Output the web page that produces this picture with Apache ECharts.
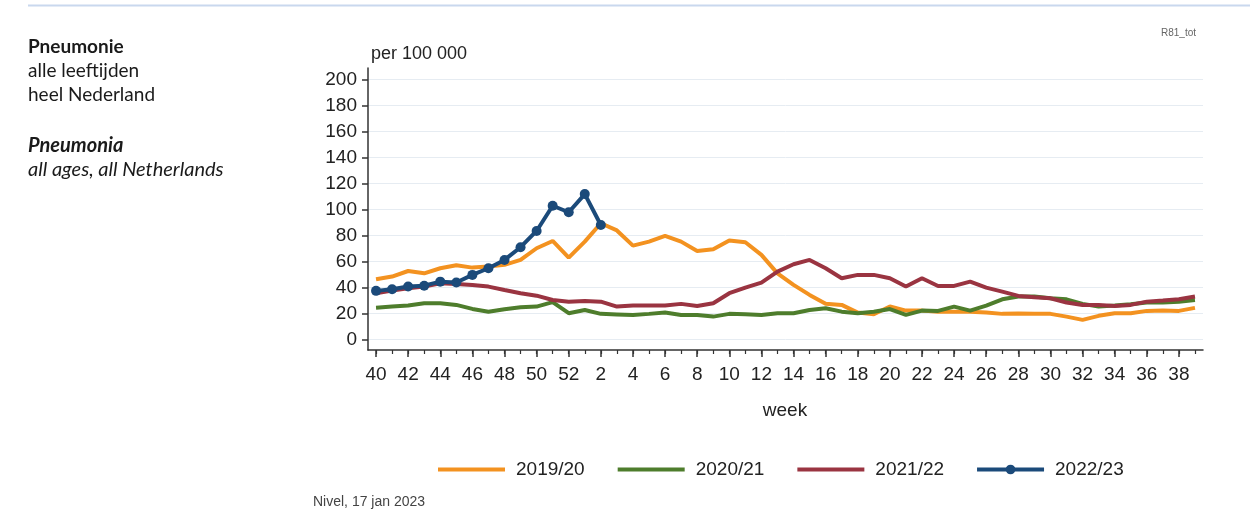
<!DOCTYPE html>
<html>
<head>
<meta charset="utf-8">
<script src="https://cdn.jsdelivr.net/npm/echarts@6/dist/echarts.min.js"></script>
<style>
html,body{margin:0;padding:0;background:#fff;}
#chart{width:1255px;height:529px;}
</style>
</head>
<body>
<div id="chart"></div>
<script>
// Week categories (season runs from week 40 to week 39)
const weeks = ['40','41','42','43','44','45','46','47','48','49','50','51','52',
  '1','2','3','4','5','6','7','8','9','10','11','12','13','14','15','16','17','18','19',
  '20','21','22','23','24','25','26','27','28','29','30','31','32','33','34','35','36','37','38','39'];

const yTicks = [0, 20, 40, 60, 80, 100, 120, 140, 160, 180, 200];

const s2019 = [46.4, 48.5, 52.8, 51.0, 54.9, 57.2, 55.4, 56.2, 57.5, 61.3, 70.3, 75.9, 63.1, 75.4, 89.5, 84.0,
  72.3, 75.4, 79.8, 75.4, 68.2, 69.5, 76.2, 74.9, 65.2, 51.0, 42.1, 34.4, 27.5, 26.7, 20.8, 19.5,
  25.5, 22.3, 22.3, 21.5, 21.5, 21.5, 20.8, 19.8, 20.0, 19.8, 19.8, 17.7, 15.2, 18.3, 20.3, 20.3, 22.1, 22.3, 22.1, 24.4];

const s2020 = [24.6, 25.4, 26.2, 28.0, 28.0, 26.7, 23.6, 21.5, 23.4, 24.9, 25.4, 28.8, 20.3, 22.8, 19.8, 19.4,
  19.0, 19.8, 20.8, 19.0, 19.0, 17.7, 19.8, 19.5, 19.0, 20.3, 20.3, 22.8, 24.1, 21.5, 20.3, 21.5,
  23.5, 19.0, 22.3, 22.1, 25.4, 22.3, 26.2, 31.0, 33.1, 33.1, 31.8, 31.0, 27.5, 25.4, 26.2, 27.2, 28.5, 28.5, 29.2, 30.5];

const s2021 = [35.7, 37.7, 39.5, 40.8, 43.4, 42.8, 42.1, 40.8, 38.2, 35.7, 33.8, 30.5, 29.2, 29.8, 29.2, 25.4,
  26.2, 26.2, 26.2, 27.5, 25.9, 28.0, 35.7, 40.0, 43.9, 52.3, 58.0, 61.3, 54.9, 47.2, 49.8, 49.8,
  47.2, 40.8, 47.2, 41.3, 41.3, 44.6, 40.0, 36.9, 33.6, 32.6, 31.8, 28.5, 26.7, 26.7, 25.9, 26.7, 29.2, 30.0, 31.0, 33.1];

const s2022 = [37.5, 38.8, 40.8, 41.5, 44.6, 43.9, 49.8, 54.9, 61.3, 71.1, 83.6, 103.0, 98.0, 112.0, 88.2];

const seasonNames = ['2019/20', '2020/21', '2021/22', '2022/23'];
const seasonColors = ['#f39220', '#4e7d2c', '#9a3441', '#1b4a7a'];

const FONT = '"Liberation Sans", Arial, Helvetica, sans-serif';
const LEFTFONT = 'Lato, "Open Sans", sans-serif';

const chart = echarts.init(document.getElementById('chart'), null, {renderer: 'canvas'});

function lineSeries(name, data, color, withSymbol) {
  return {
    name: name,
    type: 'line',
    xAxisIndex: 0,
    yAxisIndex: 0,
    data: data,
    smooth: false,
    symbol: withSymbol ? 'circle' : 'none',
    symbolSize: withSymbol ? 10 : 0,
    showSymbol: !!withSymbol,
    lineStyle: {color: color, width: 4},
    itemStyle: {color: color},
    emphasis: {disabled: true},
    animation: false
  };
}

const legendData = seasonNames.map(function (n, i) {
  return i < 3 ? {name: n, itemStyle: {opacity: 0}} : {name: n};
});

const option = {
  backgroundColor: '#fff',
  animation: false,
  grid: {left: 368, right: 52, top: 68, bottom: 179, containLabel: false, outerBoundsMode: 'none'},
  legend: {
    left: 436,
    top: 460,
    padding: 0,
    itemWidth: 67,
    itemHeight: 12,
    itemGap: 31,
    data: legendData,
    lineStyle: {width: 4},
    textStyle: {fontSize: 19, color: '#222', fontFamily: FONT, padding: [0, 0, 0, 6]},
    selectedMode: false
  },
  xAxis: [
    {
      type: 'category',
      data: weeks,
      boundaryGap: true,
      position: 'bottom',
      axisLine: {show: true, onZero: false, lineStyle: {color: '#333', width: 1.5}},
      axisTick: {show: true, alignWithLabel: true, interval: 1, length: 7, lineStyle: {color: '#333', width: 1.5}},
      axisLabel: {interval: 1, fontSize: 19, color: '#222', fontFamily: FONT, margin: 15},
      splitLine: {show: false}
    },
    {
      type: 'category',
      data: weeks,
      boundaryGap: true,
      position: 'bottom',
      offset: 0,
      axisLine: {show: false, onZero: false},
      axisTick: {show: true, alignWithLabel: true, interval: 0, length: 4, lineStyle: {color: '#333', width: 1.2}},
      axisLabel: {show: false},
      splitLine: {show: false}
    }
  ],
  yAxis: {
    type: 'value',
    min: -8,
    max: 209,
    axisLine: {show: true, onZero: false, lineStyle: {color: '#333', width: 1.5}},
    axisTick: {show: true, length: 6, customValues: yTicks, lineStyle: {color: '#333', width: 1.5}},
    axisLabel: {customValues: yTicks, fontSize: 19, color: '#222', fontFamily: FONT, margin: 11},
    splitLine: {show: true, lineStyle: {color: '#e6ecf2', width: 1}}
  },
  series: [
    lineSeries(seasonNames[0], s2019, seasonColors[0], false),
    lineSeries(seasonNames[1], s2020, seasonColors[1], false),
    lineSeries(seasonNames[2], s2021, seasonColors[2], false),
    lineSeries(seasonNames[3], s2022, seasonColors[3], true)
  ],
  graphic: [
    {type: 'line', silent: true, shape: {x1: 28, y1: 5.5, x2: 1250, y2: 5.5}, style: {stroke: '#c9d8ee', lineWidth: 2}},
    {type: 'text', left: 1161, top: 28, style: {text: 'R81_tot', fontSize: 10, fill: '#666', fontFamily: FONT}},
    {type: 'text', x: 28, y: 47, style: {text: 'Pneumonie', fontSize: 19, fontWeight: 'bold', fill: '#1a1a1a', fontFamily: LEFTFONT, verticalAlign: 'middle'}},
    {type: 'text', x: 28, y: 71, style: {text: 'alle leeftijden', fontSize: 19, fill: '#1a1a1a', fontFamily: LEFTFONT, verticalAlign: 'middle'}},
    {type: 'text', x: 28, y: 95, style: {text: 'heel Nederland', fontSize: 19, fill: '#1a1a1a', fontFamily: LEFTFONT, verticalAlign: 'middle'}},
    {type: 'text', x: 28, y: 146, style: {text: 'Pneumonia', fontSize: 20, fontWeight: 'bold', fontStyle: 'italic', fill: '#1a1a1a', fontFamily: LEFTFONT, verticalAlign: 'middle'}},
    {type: 'text', x: 28, y: 170, style: {text: 'all ages, all Netherlands', fontSize: 20, fontStyle: 'italic', fill: '#1a1a1a', fontFamily: LEFTFONT, verticalAlign: 'middle'}},
    {type: 'text', x: 371, y: 54, style: {text: 'per 100 000', fontSize: 18, fill: '#222', fontFamily: FONT, verticalAlign: 'middle'}},
    {type: 'text', x: 785, y: 411, style: {text: 'week', fontSize: 19, fill: '#222', fontFamily: FONT, align: 'center', verticalAlign: 'middle'}},
    {type: 'text', x: 313, y: 502, style: {text: 'Nivel, 17 jan 2023', fontSize: 14, fill: '#444', fontFamily: FONT, verticalAlign: 'middle'}}
  ]
};

chart.setOption(option);
</script>
</body>
</html>
